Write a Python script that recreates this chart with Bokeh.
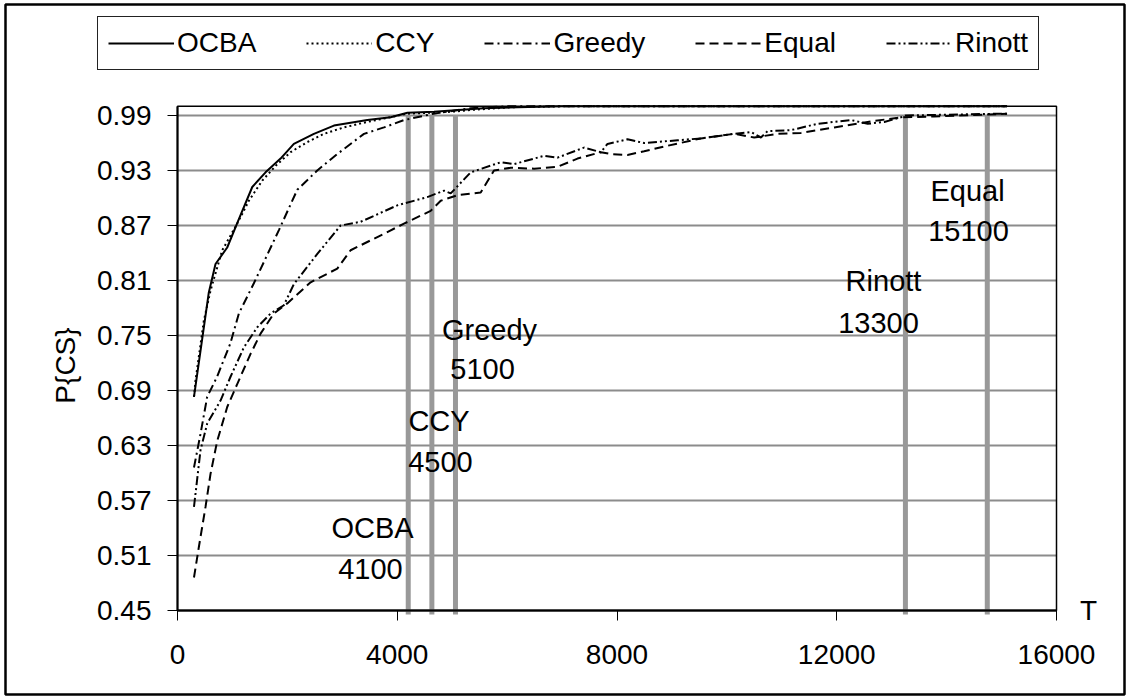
from bokeh.plotting import figure
from bokeh.models import (Range1d, FixedTicker, PrintfTickFormatter, Legend, LegendItem,
                          Label, ColumnDataSource, BoxAnnotation)
from bokeh.embed import file_html
from bokeh.resources import INLINE

# ---------------- data ----------------
ocba_T = [300, 570, 692, 905, 1117, 1361, 1603, 1876, 2118, 2483, 2847, 3455, 3880, 4184, 4668, 5574, 6188, 7000, 15100]
ocba_P = [0.683, 0.797, 0.828, 0.846, 0.877, 0.912, 0.928, 0.943, 0.959, 0.970, 0.979, 0.985, 0.988, 0.993, 0.994, 0.998, 0.999, 1.0, 1.0]

ccy_T = [300, 328, 479, 601, 814, 1087, 1299, 1543, 1785, 2058, 2363, 2665, 3029, 3455, 4184, 4973, 5337, 6066, 7000, 15100]
ccy_P = [0.683, 0.701, 0.766, 0.799, 0.843, 0.872, 0.897, 0.919, 0.935, 0.950, 0.961, 0.970, 0.977, 0.983, 0.992, 0.994, 0.996, 0.999, 1.0, 1.0]

greedy_T = [300, 420, 540, 720, 960, 1117, 1390, 1846, 2180, 2544, 2909, 3394, 3758, 4122, 4662, 5337, 6000, 15100]
greedy_P = [0.606, 0.643, 0.683, 0.705, 0.741, 0.774, 0.807, 0.865, 0.909, 0.930, 0.948, 0.970, 0.977, 0.985, 0.992, 0.998, 1.0, 1.0]

equal_T = [300, 388, 510, 601, 723, 905, 1087, 1330, 1512, 1754, 1998, 2423, 2909, 3151, 3758, 4122, 4608, 4791,
           5095, 5519, 5761, 6066, 6490, 6916, 7281, 7705, 7887, 8191, 8494, 8920, 9526, 10133, 10497, 10923,
           11348, 11955, 12563, 13169, 13770, 14736, 15100]
equal_P = [0.486, 0.519, 0.563, 0.599, 0.635, 0.672, 0.697, 0.730, 0.752, 0.774, 0.785, 0.808, 0.823, 0.843, 0.861, 0.872,
           0.886, 0.897, 0.903, 0.906, 0.930, 0.933, 0.932, 0.934, 0.943, 0.950, 0.948, 0.947, 0.951, 0.957, 0.965,
           0.970, 0.966, 0.970, 0.971, 0.977, 0.983, 0.988, 0.989, 0.991, 0.992]

rinott_T = [300, 419, 541, 783, 965, 1208, 1452, 1694, 1936, 2118, 2545, 2969, 3333, 4002, 4548, 4851, 4973, 5337,
            5883, 6126, 6672, 6916, 7401, 7705, 7827, 8191, 8494, 9102, 9526, 10133, 10437, 10619, 10741, 11166,
            11652, 12259, 12563, 12865, 13169, 13250, 14991, 15100]
rinott_P = [0.563, 0.625, 0.654, 0.679, 0.705, 0.737, 0.759, 0.774, 0.783, 0.806, 0.839, 0.870, 0.874, 0.892, 0.901,
            0.908, 0.905, 0.928, 0.939, 0.937, 0.946, 0.944, 0.955, 0.950, 0.959, 0.964, 0.960, 0.963, 0.965, 0.970,
            0.972, 0.966, 0.973, 0.974, 0.981, 0.985, 0.981, 0.983, 0.988, 0.990, 0.992, 0.992]

# drop lines at P{CS} = 0.99 and their labels
mark_names = ["OCBA", "CCY", "Greedy", "Rinott", "Equal"]
mark_values = ["4100", "4500", "5100", "13300", "15100"]
mark_T = [4200, 4630, 5060, 13250, 14740]
mark_level = 0.99

y_ticks = [0.45, 0.51, 0.57, 0.63, 0.69, 0.75, 0.81, 0.87, 0.93, 0.99]
x_ticks = [0, 4000, 8000, 12000, 16000]
T_MIN, T_MAX, P_MIN, P_MAX = 0, 16000, 0.45, 1.0

# ---------------- layout ----------------
W, H = 1129, 698
FONT = "Liberation Sans"
PX_X = 879 / 16000.0          # pixels per unit of T
PX_Y = 55 / 0.06              # pixels per unit of P
X0_PX, Y0_PX = 177, 610       # canvas position of (0, 0.45)


def tx(px):
    return (px - X0_PX) / PX_X


def py_(py):
    return P_MIN + (Y0_PX - py) / PX_Y


name_pos = [(3549, 0.5395), (4760, 0.6562), (5679, 0.7555), (12851, 0.810), (14380, 0.908)]
value_pos = [(3513, 0.4958), (4787, 0.6125), (5552, 0.714), (12760, 0.764), (14398, 0.8645)]

p = figure(width=W, height=H, output_backend="svg", toolbar_location=None,
           x_range=Range1d(tx(0), tx(W)), y_range=Range1d(py_(H), py_(0)),
           min_border_left=0, min_border_right=0, min_border_top=0, min_border_bottom=0)
p.background_fill_color = "white"
p.border_fill_color = "white"
p.outline_line_color = None

p.xgrid.grid_line_color = None
p.ygrid.ticker = FixedTicker(ticks=y_ticks)
p.ygrid.grid_line_color = "#8c8c8c"
p.ygrid.grid_line_width = 2
p.ygrid.bounds = (P_MIN, P_MAX)
try:
    p.ygrid.cross_bounds = (T_MIN, T_MAX)
    manual_grid = False
except Exception:
    p.ygrid.grid_line_color = None
    manual_grid = True

for ax in (p.xaxis[0], p.yaxis[0]):
    ax.axis_line_color = "black"
    ax.axis_line_width = 2
    ax.major_tick_line_color = "black"
    ax.major_tick_line_width = 1
    ax.major_tick_out = 10
    ax.major_tick_in = 0
    ax.minor_tick_line_color = None
    ax.major_label_text_font = FONT
    ax.major_label_text_font_size = "28px"
    ax.major_label_text_color = "black"

p.yaxis.ticker = FixedTicker(ticks=y_ticks)
p.yaxis.formatter = PrintfTickFormatter(format="%.2f")
p.yaxis.major_label_standoff = 16
p.yaxis.bounds = (P_MIN, P_MAX)
p.yaxis.fixed_location = T_MIN
p.xaxis.ticker = FixedTicker(ticks=x_ticks)
p.xaxis.formatter = PrintfTickFormatter(format="%d")
p.xaxis.major_label_standoff = 24
p.xaxis.bounds = (T_MIN, T_MAX)
p.xaxis.fixed_location = P_MIN

if manual_grid:
    gs = ColumnDataSource(dict(y=y_ticks))
    p.segment(x0=T_MIN, x1=T_MAX, y0="y", y1="y", source=gs, line_color="#8c8c8c", line_width=2)

# plot-area frame and outer chart border
p.add_layout(BoxAnnotation(left=T_MIN, right=T_MAX, bottom=P_MIN, top=P_MAX, fill_alpha=0,
                           line_color="black", line_alpha=1.0, line_width=1.5))
p.add_layout(BoxAnnotation(left=tx(5), right=tx(1124), bottom=py_(694), top=py_(4), fill_alpha=0,
                           line_color="black", line_alpha=1.0, line_width=2.5))

# drop lines
seg = ColumnDataSource(dict(x0=mark_T, x1=mark_T, y0=[py_(614)] * len(mark_T), y1=[mark_level] * len(mark_T)))
p.segment(x0="x0", y0="y0", x1="x1", y1="y1", source=seg, line_color="#999999", line_width=5)

# curves
lw = 2
r_ocba = p.line(ocba_T, ocba_P, line_color="black", line_width=lw)
r_ccy = p.line(ccy_T, ccy_P, line_color="black", line_width=lw, line_dash="2 3")
r_greedy = p.line(greedy_T, greedy_P, line_color="black", line_width=lw, line_dash="9 4 2 4")
r_equal = p.line(equal_T, equal_P, line_color="black", line_width=lw, line_dash="9 5")
r_rinott = p.line(rinott_T, rinott_P, line_color="black", line_width=lw, line_dash="9 3 2 3 2 3")

# annotation texts
for i in range(len(mark_names)):
    p.add_layout(Label(x=name_pos[i][0], y=name_pos[i][1], text=mark_names[i], text_align="center",
                       text_baseline="middle", text_font=FONT, text_font_size="29px", text_color="black"))
    p.add_layout(Label(x=value_pos[i][0], y=value_pos[i][1], text=mark_values[i], text_align="center",
                       text_baseline="middle", text_font=FONT, text_font_size="29px", text_color="black"))

# axis titles
p.add_layout(Label(x=tx(65), y=py_(365), text="P{CS}", angle=1.5707963, text_align="center",
                   text_baseline="middle", text_font=FONT, text_font_size="28px", text_color="black"))
p.add_layout(Label(x=tx(1088), y=P_MIN, text="T", text_align="center", text_baseline="middle",
                   text_font=FONT, text_font_size="28px", text_color="black"))

legend = Legend(items=[LegendItem(label="OCBA", renderers=[r_ocba]),
                       LegendItem(label="CCY", renderers=[r_ccy]),
                       LegendItem(label="Greedy", renderers=[r_greedy]),
                       LegendItem(label="Equal", renderers=[r_equal]),
                       LegendItem(label="Rinott", renderers=[r_rinott])],
                orientation="horizontal", location=(97, H - 70),
                label_text_font=FONT, label_text_font_size="28px", label_text_color="black",
                glyph_width=66, glyph_height=20, label_standoff=3, spacing=50, padding=10, margin=0,
                border_line_color="#222222", border_line_alpha=1.0, border_line_width=1.2,
                background_fill_color="white", background_fill_alpha=1)
p.add_layout(legend, "center")

open("out.html", "w").write(file_html(p, INLINE))
